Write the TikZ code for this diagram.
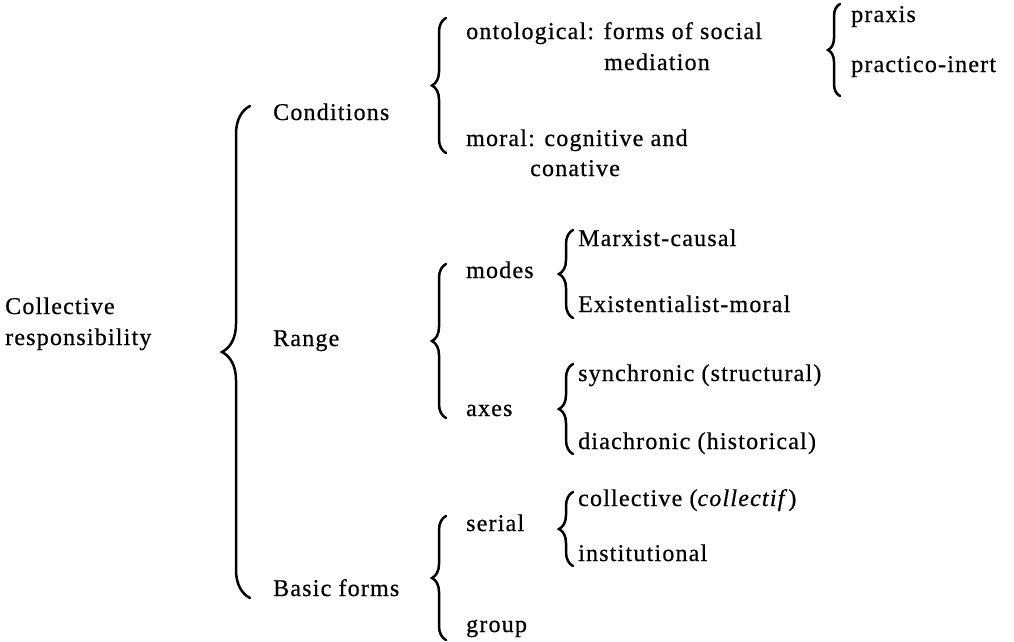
\documentclass[tikz,border=0pt]{standalone}
\usepackage{fontspec}
\setmainfont{Liberation Serif}[LetterSpace=5,FakeBold=0.6]
\usetikzlibrary{decorations.pathreplacing}
\begin{document}
\begin{tikzpicture}[x=1pt,y=-1pt,font=\fontsize{24}{28}\selectfont,
  lbl/.style={anchor=base west,inner sep=0pt},
  brc/.style={decorate,decoration={brace,amplitude=#1},line width=2.5pt,line cap=round},
  brc/.default=14pt]
\useasboundingbox (0,0) rectangle (1014,641);
% left root
\node[lbl] (coll) at (5,314) {Collective};
\node[lbl] (resp) at (5,345) {responsibility};
\draw[brc=28pt] (250,598) -- (250,106);
% first level
\node[lbl] (cond) at (273,120) {Conditions};
\node[lbl] (range) at (273,346) {Range};
\node[lbl] (basic) at (273,596) {Basic forms};
% conditions
\draw[brc] (446,153) -- (446,18);
\node[lbl] (onto) at (466,39) {ontological: forms of social};
\node[lbl] (medi) at (604,70) {mediation};
\node[lbl] (moral) at (466,146) {moral: cognitive and};
\node[lbl] (conat) at (530,176) {conative};
\draw[brc=12pt] (840,96) -- (840,4);
\node[lbl] (prax) at (851,22) {praxis};
\node[lbl] (pine) at (851,72) {practico-inert};
% range
\draw[brc] (446,418) -- (446,264);
\node[lbl] (modes) at (466,278) {modes};
\node[lbl] (axes) at (466,416) {axes};
\draw[brc] (573,318) -- (573,230);
\node[lbl] (marx) at (578,246) {Marxist-causal};
\node[lbl] (exis) at (578,312) {Existentialist-moral};
\draw[brc] (573,454) -- (573,364);
\node[lbl] (sync) at (578,381) {synchronic (structural)};
\node[lbl] (diac) at (578,449) {diachronic (historical)};
% basic forms
\draw[brc] (446,640) -- (446,516);
\node[lbl] (serial) at (466,531) {serial};
\node[lbl] (group) at (466,632) {group};
\draw[brc] (573,566) -- (573,492);
\node[lbl] (ctif) at (578,506) {collective (\textit{collectif\,})};
\node[lbl] (inst) at (578,561) {institutional};
\end{tikzpicture}
\end{document}
